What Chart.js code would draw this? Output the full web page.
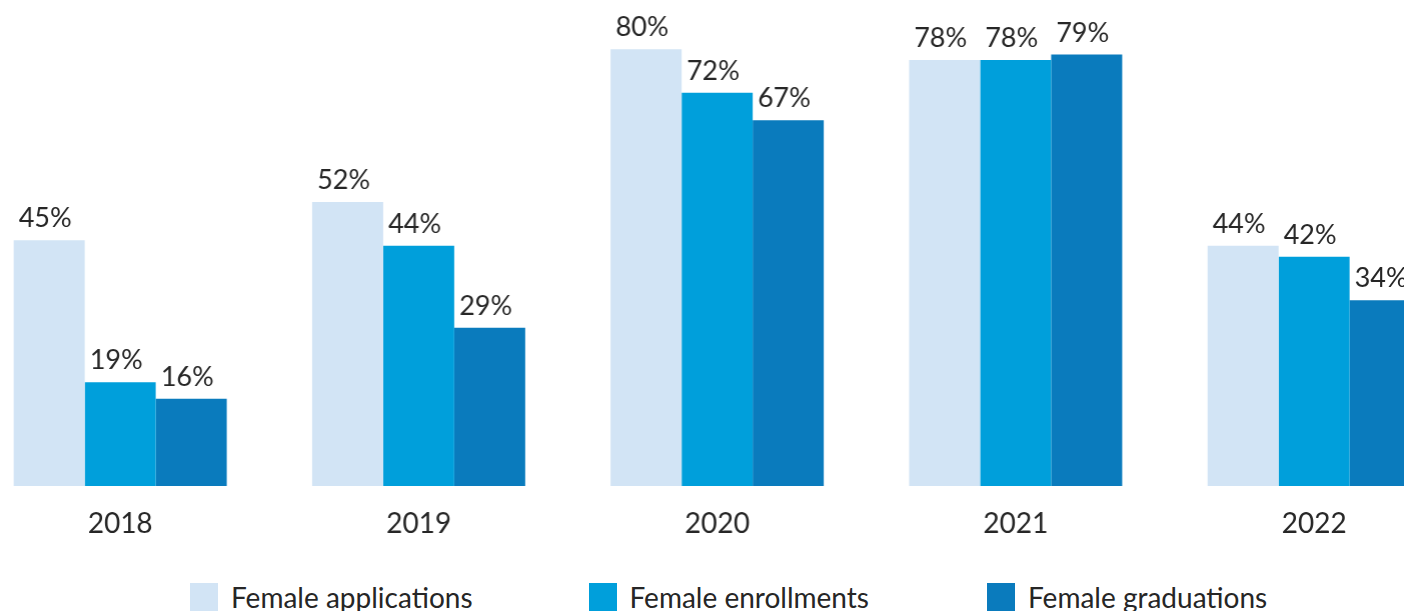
<!DOCTYPE html>
<html>
<head>
<meta charset="utf-8">
<script src="https://cdn.jsdelivr.net/npm/chart.js@4"></script>
<style>
  html, body { margin: 0; padding: 0; background: #fff; overflow: hidden; width: 1404px; height: 611px; }
  #wrap { position: absolute; left: -28.6px; top: 0; width: 1491.25px; height: 546px; }
  #legend { position: absolute; left: 190px; top: 583px; display: flex; font-family: Lato, sans-serif; font-size: 28px; color: #262626; }
  .item { display: flex; align-items: flex-start; width: 398.5px; line-height: 28px; white-space: nowrap; }
  .box { width: 28px; height: 28px; margin-right: 13px; flex: none; }
</style>
</head>
<body>
<div id="wrap"><canvas id="chart"></canvas></div>
<div id="legend"></div>
<script>
// Datos
const years = ['2018', '2019', '2020', '2021', '2022'];
const applications = [45, 52, 80, 78, 44];
const enrollments = [19, 44, 72, 78, 42];
const graduations = [16, 29, 67, 79, 34];
const seriesNames = ['Female applications', 'Female enrollments', 'Female graduations'];
const colors = ['#D2E4F5', '#009FDB', '#0A7BBD'];

// Etiquetas de valor encima de las barras
const valueLabels = {
  id: 'valueLabels',
  afterDatasetsDraw(chart) {
    const ctx = chart.ctx;
    ctx.save();
    ctx.font = '27px Lato, sans-serif';
    ctx.fillStyle = '#262626';
    ctx.textAlign = 'center';
    ctx.textBaseline = 'alphabetic';
    chart.data.datasets.forEach((ds, i) => {
      chart.getDatasetMeta(i).data.forEach((bar, j) => {
        ctx.fillText(ds.data[j] + '%', bar.x - 4, bar.y - 13);
      });
    });
    ctx.restore();
  }
};

const datasets = [applications, enrollments, graduations].map((values, i) => ({
  label: seriesNames[i],
  data: values,
  backgroundColor: colors[i],
  borderWidth: 0,
  categoryPercentage: 0.714,
  barPercentage: 1.0
}));

new Chart(document.getElementById('chart'), {
  type: 'bar',
  data: { labels: years, datasets: datasets },
  options: {
    responsive: true,
    maintainAspectRatio: false,
    animation: false,
    layout: { padding: 0 },
    plugins: { legend: { display: false }, tooltip: { enabled: false } },
    scales: {
      x: {
        grid: { display: false, drawTicks: false },
        border: { display: false },
        ticks: { color: '#262626', font: { family: 'Lato, sans-serif', size: 28 }, padding: 21 },
        afterFit: s => { s.height = 60; }
      },
      y: { display: false, min: 0, max: 89 }
    }
  },
  plugins: [valueLabels]
});

// Leyenda
const legend = document.getElementById('legend');
seriesNames.forEach((name, i) => {
  const item = document.createElement('div');
  item.className = 'item';
  const box = document.createElement('span');
  box.className = 'box';
  box.style.background = colors[i];
  const txt = document.createElement('span');
  txt.textContent = name;
  item.appendChild(box);
  item.appendChild(txt);
  legend.appendChild(item);
});
</script>
</body>
</html>
